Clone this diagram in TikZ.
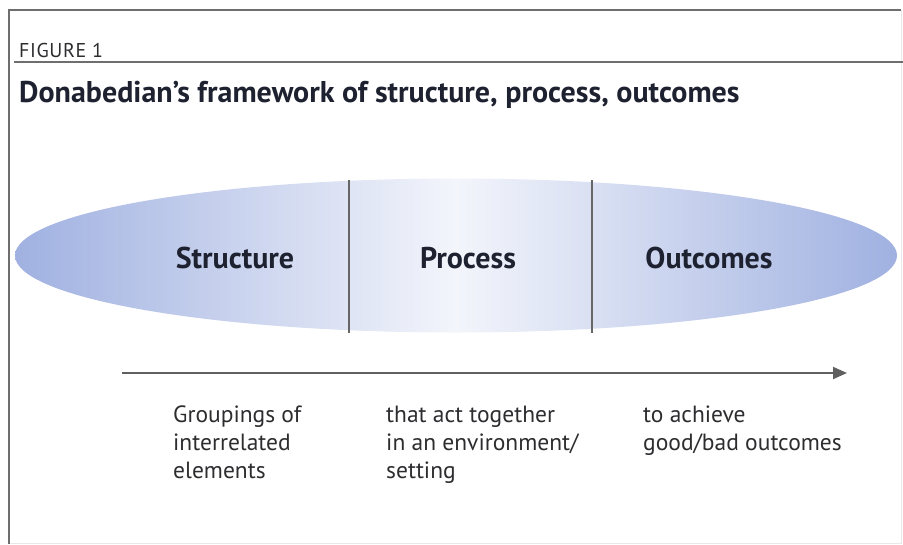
\documentclass[tikz,border=0pt]{standalone}
\usepackage{fontspec}
\setmainfont{PT Sans}
\usetikzlibrary{arrows.meta}
\definecolor{ellblue}{RGB}{160,177,225}
\definecolor{ellmid}{RGB}{243,245,251}
\definecolor{txtdark}{RGB}{30,34,48}
\definecolor{bodytxt}{RGB}{45,45,48}
\definecolor{framegray}{RGB}{110,110,110}
\tikzset{
  colhead/.style={font=\bfseries\fontsize{30}{30}\selectfont, text=txtdark, inner sep=0pt, anchor=base},
  bodytext/.style={font=\fontsize{23.5}{28}\selectfont, text=bodytxt, align=left, inner sep=0pt, anchor=base west},
  divider/.style={line width=2pt, draw=gray!80!black},
}
\begin{document}
\begin{tikzpicture}[x=1pt,y=-1pt]
\useasboundingbox (0,0) rectangle (903,544);
% frame
\draw[gray!18, line width=0.8pt] (901,10) -- (901,543) -- (9,543);
\draw[framegray, line width=1.8pt] (901,10) -- (9,10) -- (9,544);
\draw[framegray, line width=1.8pt] (14,62) -- (903,62);
% titles
\node[anchor=base west, inner sep=0pt, font=\addfontfeature{LetterSpace=3}\fontsize{20}{20}\selectfont, text=bodytxt] (fig) at (19,57) {FIGURE 1};
\node[anchor=base west, inner sep=0pt, font=\bfseries\fontsize{30}{30}\selectfont, text=txtdark] (title) at (19,102) {Donabedian’s framework of structure, process, outcomes};
% ellipse
\shade[left color=ellblue, right color=ellblue, middle color=ellmid] (456,255.5) ellipse [x radius=441, y radius=77];
\draw[divider] (349,180) -- (349,333);
\draw[divider] (592,180) -- (592,333);
\node[colhead] (structure) at (235,268) {Structure};
\node[colhead] (process) at (468,268) {Process};
\node[colhead] (outcomes) at (709,268) {Outcomes};
% arrow
\coordinate (arrS) at (122,373);
\coordinate (arrE) at (847,373);
\draw[line width=2pt, draw=gray!75!black, -{Triangle[length=14pt,width=12pt]}] (arrS) -- (arrE);
% body texts (anchor = baseline of last line)
\node[bodytext] (t1) at (173,478) {Groupings of\\interrelated\\elements};
\node[bodytext] (t2) at (386,478) {that act together\\in an environment/\\setting};
\node[bodytext] (t3) at (643,450) {to achieve\\good/bad outcomes};
\end{tikzpicture}
\end{document}
